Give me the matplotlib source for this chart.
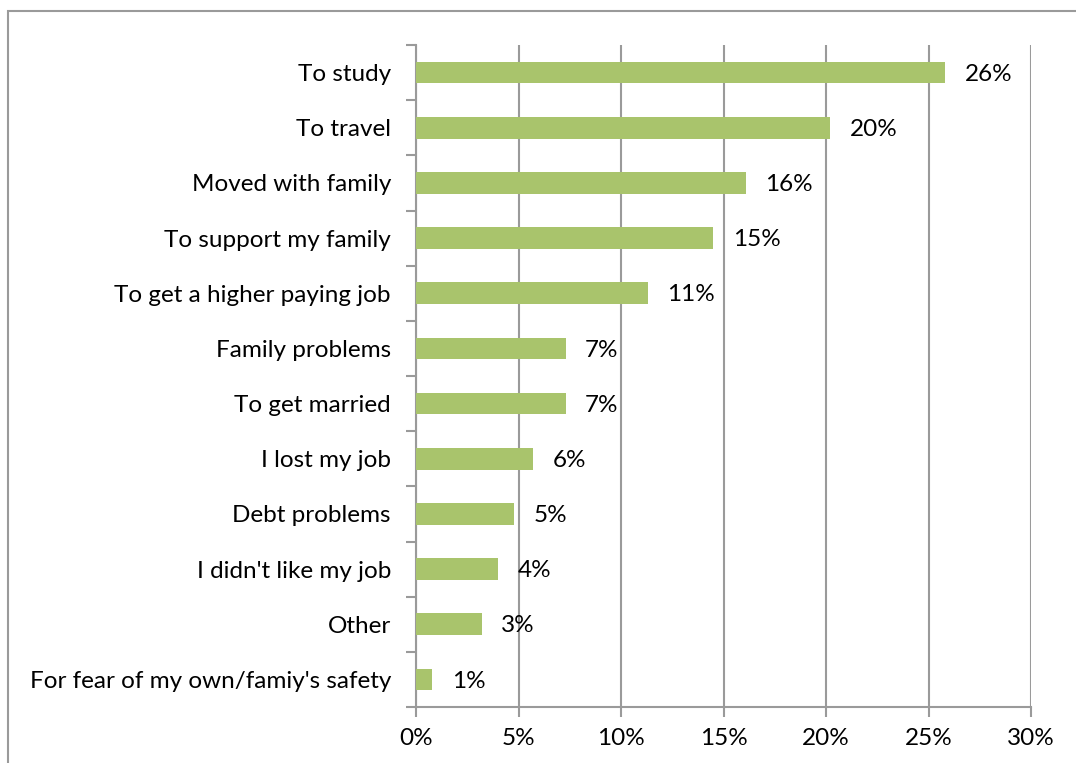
import matplotlib.pyplot as plt
from matplotlib.patches import Rectangle
from matplotlib.ticker import FixedLocator

categories = ["To study", "To travel", "Moved with family", "To support my family",
              "To get a higher paying job", "Family problems", "To get married",
              "I lost my job", "Debt problems", "I didn't like my job", "Other",
              "For fear of my own/famiy's safety"]
values = [25.8, 20.2, 16.1, 14.5, 11.3, 7.3, 7.3, 5.7, 4.8, 4.0, 3.2, 0.8]
labels = ["26%", "20%", "16%", "15%", "11%", "7%", "7%", "6%", "5%", "4%", "3%", "1%"]
xticks = [0, 5, 10, 15, 20, 25, 30]

plt.rcParams['font.family'] = ['Lato', 'DejaVu Sans']
grid_col = '#9a9a9a'
bar_col = '#a9c46c'
fs = 17.5

fig = plt.figure(figsize=(10.76, 7.63), dpi=100)
# chart frame
fig.patches.append(Rectangle((8 / 1076, -0.01), 1.1, 1 - 11 / 763 + 0.01, transform=fig.transFigure,
                             fill=False, edgecolor='#9a9a9a', linewidth=1.5))
ax = fig.add_axes([416 / 1076, 1 - 707 / 763, (1031 - 416) / 1076, (707 - 45) / 763])

n = len(categories)
ypos = list(range(n))[::-1]
ax.barh(ypos, values, height=0.39, color=bar_col, zorder=3)
for y, v, lab in zip(ypos, values, labels):
    ax.text(v + 0.95, y - 0.03, lab, va='center', ha='left', fontsize=fs, color='black')

ax.set_xlim(0, 30)
ax.set_ylim(-0.5, n - 0.5)
ax.set_xticks(xticks)
ax.set_xticklabels([f"{t}%" for t in xticks], fontsize=fs)
ax.xaxis.grid(True, color=grid_col, linewidth=1.5, zorder=0)

ax.set_yticks(ypos)
ax.set_yticklabels(categories, fontsize=fs)
ax.tick_params(axis='y', length=0, pad=18)
ax.yaxis.set_minor_locator(FixedLocator([i - 0.5 for i in range(n + 1)]))
ax.tick_params(axis='y', which='minor', length=7, width=1.5, color=grid_col)
ax.tick_params(axis='x', length=7, width=1.5, color=grid_col, pad=8)

for s in ['top', 'right']:
    ax.spines[s].set_visible(False)
for s in ['left', 'bottom']:
    ax.spines[s].set_color(grid_col)
    ax.spines[s].set_linewidth(1.5)

fig.savefig('out.png', dpi=100)
